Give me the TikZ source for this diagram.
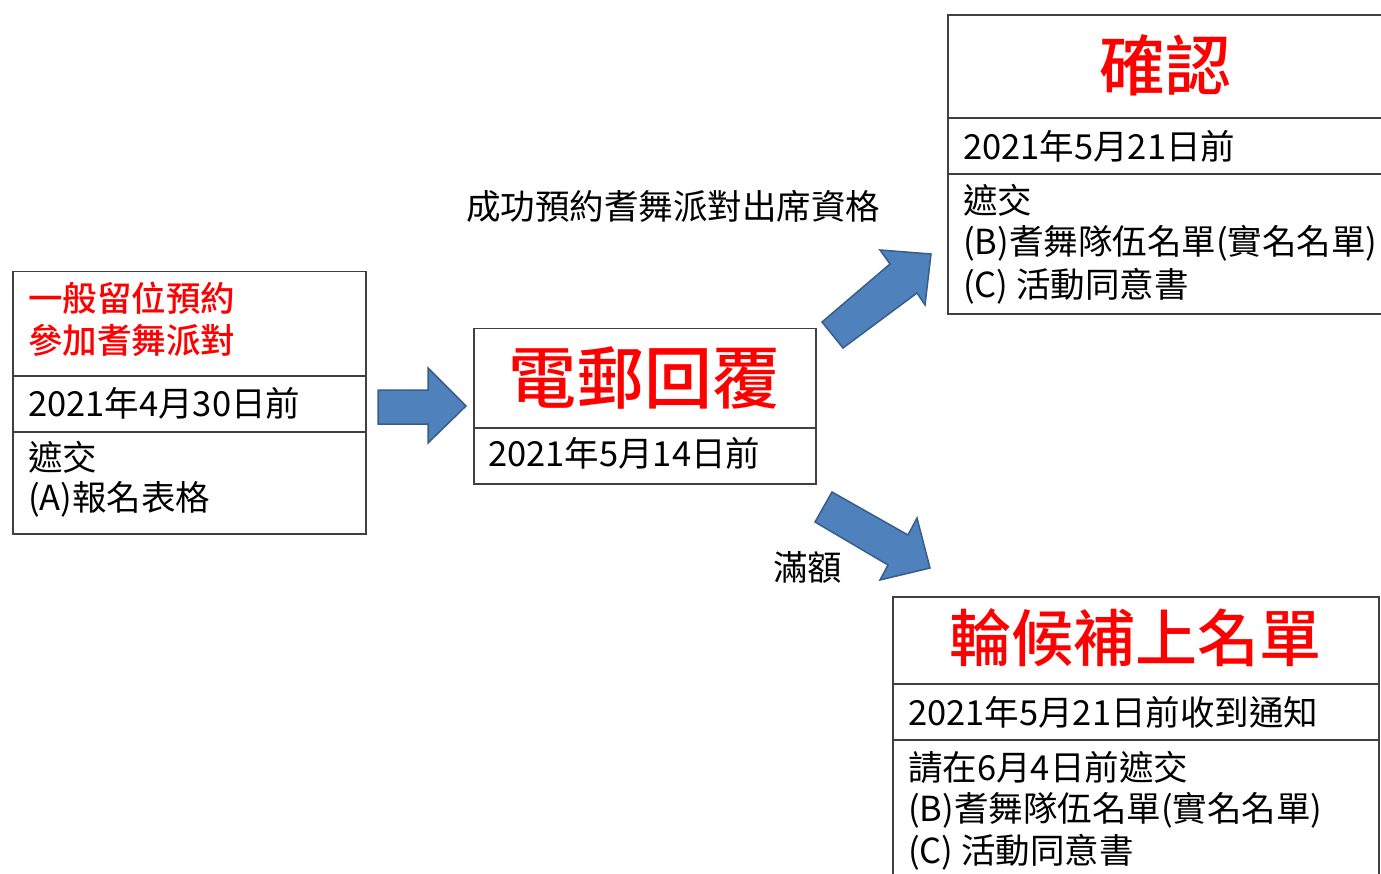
\documentclass[tikz,border=0pt]{standalone}
\usepackage{fontspec}
\setmainfont{Noto Sans CJK TC}[BoldFont={Noto Sans CJK TC Medium}]
\definecolor{boxline}{HTML}{404040}
\definecolor{arrfill}{HTML}{4F81BD}
\definecolor{arrline}{HTML}{385D8A}
\definecolor{titlered}{HTML}{FF0000}
\tikzset{
  boxst/.style={draw=boxline, line width=1.5pt, inner sep=0pt, anchor=north west},
  body/.style={anchor=west, inner sep=0pt, font=\fontsize{34.5}{40}\selectfont, text=black},
  ttl/.style={inner sep=0pt, text=titlered, font=\bfseries\fontsize{#1}{#1}\selectfont},
  blockarrow/.style={fill=arrfill, draw=arrline, line width=1.5pt, line join=miter}
}
\begin{document}
\begin{tikzpicture}[x=1pt,y=-1pt]
\useasboundingbox (0,0) rectangle (1381,874);
% ---- Box 1
\node[boxst, minimum width=353pt, minimum height=104pt] (b1a) at (12,271) {};
\node[boxst, minimum width=353pt, minimum height=56pt] (b1b) at (12,375) {};
\node[boxst, minimum width=353pt, minimum height=102pt] (b1c) at (12,431) {};
\node[ttl=34.5, anchor=west] (t1a) at (28,298) {一般留位預約};
\node[ttl=34.5, anchor=west] (t1b) at (28,340) {參加耆舞派對};
\node[body] (d1) at (28,403) {2021年4月30日前};
\node[body] (s1a) at (28,457) {遮交};
\node[body] (s1b) at (28,499) {(A)報名表格};
% ---- Box 2
\node[boxst, minimum width=342pt, minimum height=99pt] (b2a) at (473,328) {};
\node[boxst, minimum width=342pt, minimum height=56pt] (b2b) at (473,427) {};
\node[ttl=68] (t2) at (644,378) {電郵回覆};
\node[body] (d2) at (488,453) {2021年5月14日前};
% ---- Box 3 (cut at right edge)
\coordinate (b3tl) at (948,15);
\coordinate (b3bl) at (948,314);
\draw[draw=boxline, line width=1.5pt] (1383,15) -- (b3tl) -- (b3bl) -- (1383,314);
\draw[draw=boxline, line width=1.5pt] (948,118) -- (1383,118);
\draw[draw=boxline, line width=1.5pt] (948,174) -- (1383,174);
\node[ttl=66] (t3) at (1165,65) {確認};
\node[body] (d3) at (963,146) {2021年5月21日前};
\node[body] (s3a) at (963,200) {遮交};
\node[body] (s3b) at (963,243) {(B)耆舞隊伍名單(實名名單)};
\node[body] (s3c) at (963,286) {(C) 活動同意書};
% ---- Box 4 (cut at right and bottom edges)
\coordinate (b4tl) at (893,597);
\draw[draw=boxline, line width=1.5pt] (893,880) -- (b4tl) -- (1379,597) -- (1379,880);
\draw[draw=boxline, line width=1.5pt] (893,684) -- (1379,684);
\draw[draw=boxline, line width=1.5pt] (893,740) -- (1379,740);
\node[ttl=62] (t4) at (1135,638) {輪候補上名單};
\node[body] (d4) at (908,712) {2021年5月21日前收到通知};
\node[body] (s4a) at (908,767) {請在6月4日前遮交};
\node[body] (s4b) at (908,810) {(B)耆舞隊伍名單(實名名單)};
\node[body] (s4c) at (908,852) {(C) 活動同意書};
% ---- labels
\node[body] (l1) at (466,206) {成功預約耆舞派對出席資格};
\node[body] (l2) at (773,567) {滿額};
% ---- block arrows
\draw[blockarrow] (378,390) -- (428,390) -- (428,368) -- (466,406) -- (428,443) -- (428,424) -- (378,424) -- cycle;
\draw[blockarrow] (822,322) -- (890,264) -- (880,250) -- (931,254) -- (925,305) -- (917,293) -- (843,348) -- cycle;
\draw[blockarrow] (832,492) -- (908,535) -- (917,518) -- (930,568) -- (880,580) -- (888,565) -- (815,522) -- cycle;
\end{tikzpicture}
\end{document}
